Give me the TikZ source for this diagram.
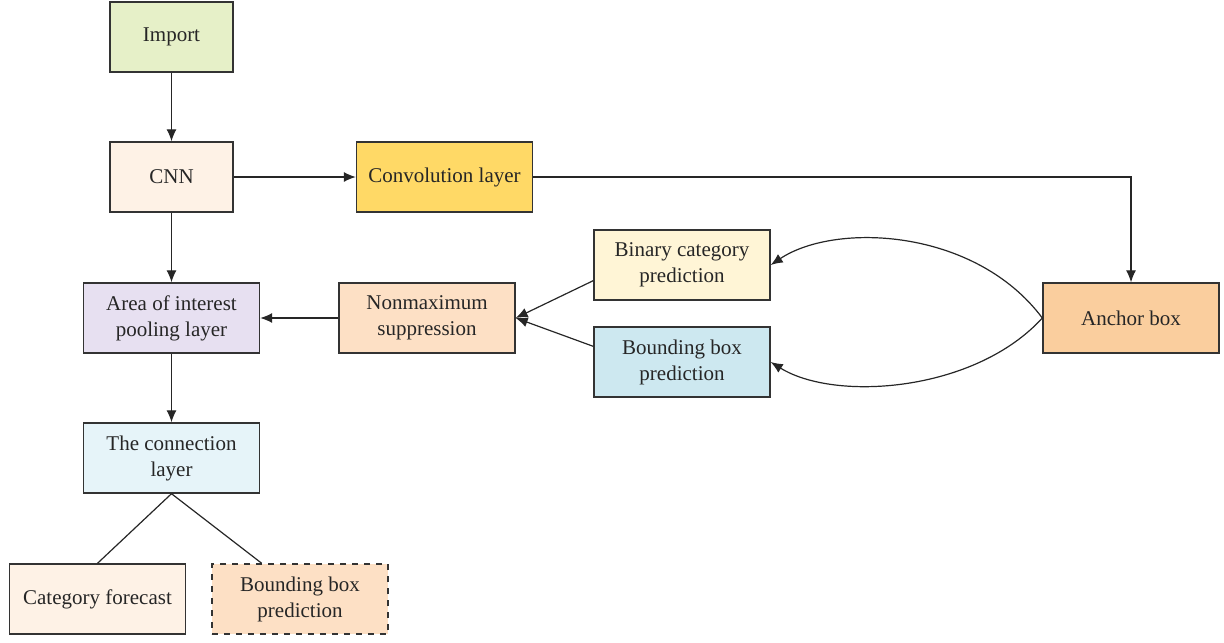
\documentclass[tikz,border=0pt]{standalone}
\usepackage{fontspec}
\setmainfont{Liberation Serif}
\usetikzlibrary{arrows.meta, calc}

\definecolor{importc}{RGB}{230,240,200}
\definecolor{cnnc}{RGB}{254,242,230}
\definecolor{convc}{RGB}{255,217,102}
\definecolor{areac}{RGB}{231,224,241}
\definecolor{nmsc}{RGB}{253,224,197}
\definecolor{binc}{RGB}{255,245,214}
\definecolor{bboxc}{RGB}{205,232,240}
\definecolor{anchorc}{RGB}{250,206,158}
\definecolor{connc}{RGB}{230,244,249}

\begin{document}
\begin{tikzpicture}[x=0.5pt, y=-0.5pt, >={Latex[length=6pt,width=5pt]},
    box/.style={draw=black!80, line width=0.7pt, align=center, inner sep=0pt,
                minimum height=35pt, text=black!85,
                font=\fontsize{10.5}{13}\selectfont},
    smallbox/.style={box, minimum width=61.5pt},
    widebox/.style={box, minimum width=88pt},
    link/.style={line width=0.6pt, draw=black!85}]

               \useasboundingbox (0,0) rectangle (1224,642);

               %% left column
               \node[smallbox, fill=importc] (import) at (171.5, 37) {Import};
               \node[smallbox, fill=cnnc] (cnn) at (171.5, 177) {CNN};
               \node[widebox, fill=areac] (area) at (171.5, 318) {Area of interest\\pooling layer};
               \node[widebox, fill=connc] (conn) at (171.5, 458) {The connection\\layer};

               %% outputs
               \node[widebox, fill=cnnc] (catf) at (97.5, 599) {Category forecast};
               \node[widebox, fill=nmsc, dashed] (bboxout) at (300, 599) {Bounding box\\prediction};

               %% right part
               \node[widebox, fill=convc] (conv) at (444.5, 177) {Convolution layer};
               \node[widebox, fill=nmsc] (nms) at (427, 318) {Nonmaximum\\suppression};
               \node[widebox, fill=binc] (binpred) at (682, 265) {Binary category\\prediction};
               \node[widebox, fill=bboxc] (bboxpred) at (682, 362) {Bounding box\\prediction};
               \node[widebox, fill=anchorc] (anchor) at (1131, 318) {Anchor box};

               %% Import -> CNN -> area -> connection
               \draw[link, ->] (import) -- (cnn);
               \draw[link, ->] (cnn) -- (area);
               \draw[link, ->] (area) -- (conn);

               %% connection layer splits
               \draw[link] (conn.south) -- (catf.north);
               \draw[link] (conn.south) -- (bboxout.137);

               %% CNN -> convolution -> anchor
               \draw[link, ->] (cnn) -- (conv);
               \draw[link, ->] (conv.east) -| (anchor.north);

               %% anchor box curves
               \draw[link, ->] (anchor.west) .. controls (975, 228) and (835, 222) .. (binpred.east);
               \draw[link, ->] (anchor.west) .. controls (975, 392) and (835, 402) .. (bboxpred.east);

               %% predictions -> NMS -> area
               \draw[link, ->] (binpred.190) -- (nms.east);
               \draw[link, ->] (bboxpred.170) -- (nms.east);
               \draw[link, ->] (nms) -- (area);
   \end{tikzpicture}
\end{document}
